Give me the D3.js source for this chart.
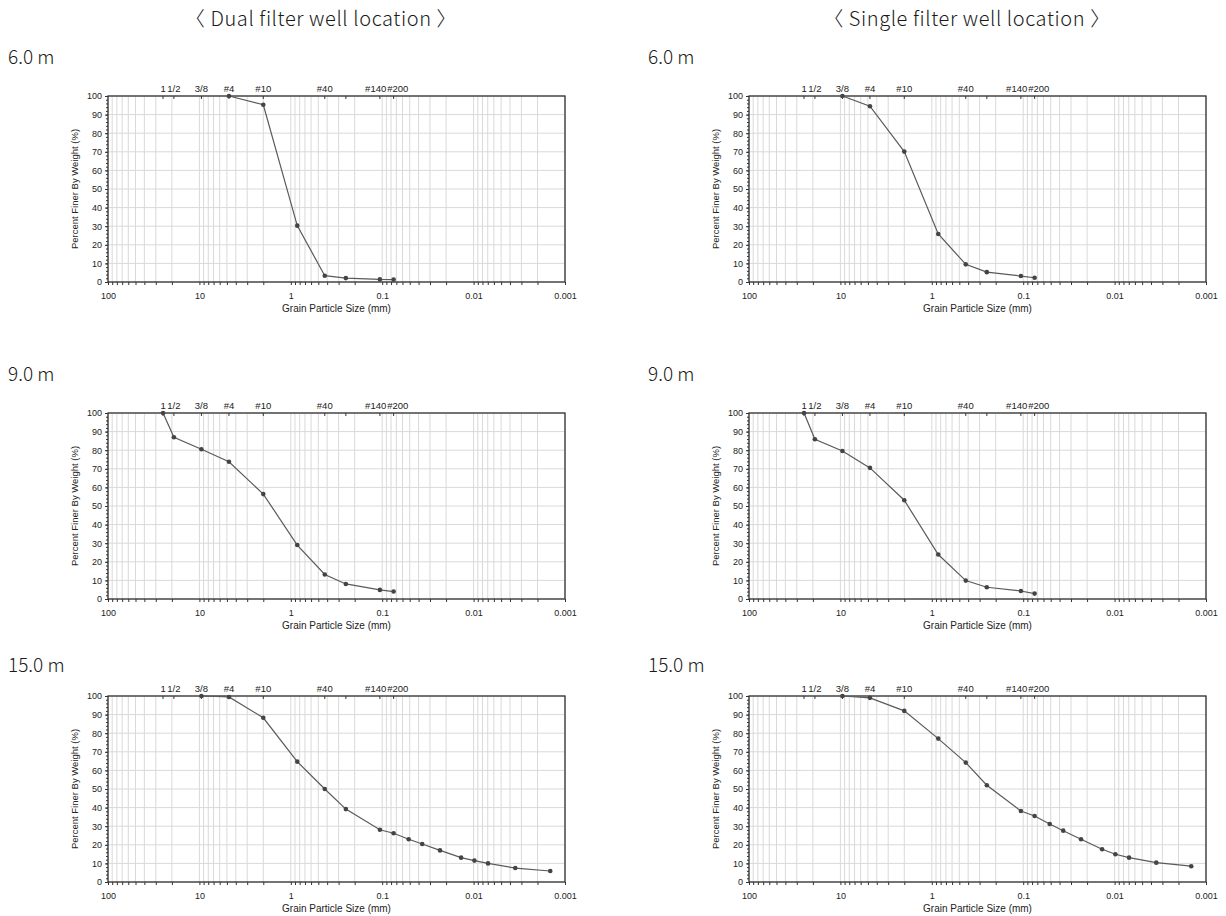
<!DOCTYPE html>
<html>
<head>
<meta charset="utf-8">
<script src="https://cdn.jsdelivr.net/npm/d3@7"></script>
<style>
    body { margin: 0; background: #fff; }
    .head { font-family: "Noto Sans CJK KR", "Noto Sans", sans-serif; font-weight: 300; fill: #1a1a1a; }
    .chart text { font-family: "Liberation Sans", Arial, sans-serif; fill: #222; }
</style>
</head>
<body>
<div id="vis"></div>
<script>
// sieve sizes (mm) and hydrometer sizes
const SIEVE_SIZES = [25, 19, 9.5, 4.75, 2.0, 0.85, 0.425, 0.25, 0.106, 0.075];
const HYDRO_SIZES = [0.0513, 0.0365, 0.0233, 0.0137, 0.0098, 0.00695, 0.0035, 0.00145];

// top axis sieve marks
const SIEVE_LABELS = ["1", "1/2", "3/8", "#4", "#10", "#40", "#140", "#200"];
const SIEVE_LABEL_SIZES = [25, 19, 9.5, 4.75, 2.0, 0.425, 0.106, 0.075];
const SIEVE_TICK_SIZES = [25, 19, 9.5, 4.75, 2.0, 0.425, 0.25, 0.106, 0.075];

const X_TICK_LABELS = ["100", "10", "1", "0.1", "0.01", "0.001"];
const Y_TICKS = [0, 10, 20, 30, 40, 50, 60, 70, 80, 90, 100];

const DEPTHS = ["6.0 m", "9.0 m", "15.0 m"];
const WELLS = ["〈 Dual filter well location 〉", "〈 Single filter well location 〉"];

// percent finer by weight
const dual6Sizes = [4.75, 2.0, 0.85, 0.425, 0.25, 0.106, 0.075];
const dual6Pct   = [100, 95.3, 30.3, 3.4, 2.1, 1.4, 1.3];

const dual9Sizes = SIEVE_SIZES;
const dual9Pct   = [100, 87.0, 80.5, 73.8, 56.4, 29.0, 13.2, 8.1, 4.9, 4.0];

const dual15Sizes = SIEVE_SIZES.slice(2).concat(HYDRO_SIZES);
const dual15Pct   = [100, 99.5, 88.3, 64.7, 50.0, 39.2, 28.1, 26.2, 23.0, 20.4, 17.0, 13.1, 11.5, 10.0, 7.5, 5.9];

const single6Sizes = SIEVE_SIZES.slice(2);
const single6Pct   = [100, 94.5, 70.1, 25.8, 9.5, 5.3, 3.2, 2.3];

const single9Sizes = SIEVE_SIZES;
const single9Pct   = [100, 85.9, 79.6, 70.5, 53.1, 23.9, 9.9, 6.3, 4.3, 2.9];

const single15Sizes = SIEVE_SIZES.slice(2).concat(HYDRO_SIZES);
const single15Pct   = [100, 99.0, 92.0, 77.1, 64.2, 52.0, 38.2, 35.5, 31.2, 27.6, 23.0, 17.6, 14.9, 13.1, 10.4, 8.5];

const SERIES = [
    [dual6Sizes, dual6Pct], [dual9Sizes, dual9Pct], [dual15Sizes, dual15Pct],
    [single6Sizes, single6Pct], [single9Sizes, single9Pct], [single15Sizes, single15Pct]
];

// layout
const width = 1226, height = 916;
const plotW = 457, plotH = 186;
const colX = [108, 749];
const headX = [321, 967];
const depthX = [8, 648];
const rowY = [96, 413, 696];
const depthY = [64, 381, 672];

const svg = d3.select("#vis").append("svg")
    .attr("width", width)
    .attr("height", height);

// headers
WELLS.forEach((w, i) => {
    svg.append("text")
        .attr("class", "head")
        .attr("x", headX[i]).attr("y", 26)
        .attr("text-anchor", "middle")
        .style("font-size", "20px")
        .style("letter-spacing", "0.6px")
        .text(w);
});

const x = d3.scaleLog().domain([100, 0.001]).range([0, plotW]);
const y = d3.scaleLinear().domain([0, 100]).range([plotH, 0]);

// minor log values for grid + ticks
const logMinor = [];
for (let e = -3; e <= 1; e++) {
    for (let k = 1; k <= 9; k++) logMinor.push(k * Math.pow(10, e));
}
logMinor.push(100);

function drawChart(col, row, sizes, pct) {
    const g = svg.append("g")
        .attr("class", "chart")
        .attr("transform", `translate(${colX[col]}, ${rowY[row]})`);

    svg.append("text")
        .attr("class", "head")
        .attr("x", depthX[col]).attr("y", depthY[row])
        .style("font-size", "19px")
        .text(DEPTHS[row]);

    // grid
    g.append("g").selectAll("line")
        .data(logMinor)
        .join("line")
        .attr("x1", d => x(d)).attr("x2", d => x(d))
        .attr("y1", 0).attr("y2", plotH)
        .attr("stroke", "#d9d9d9")
        .attr("stroke-width", 1);

    g.append("g").selectAll("line")
        .data(Y_TICKS)
        .join("line")
        .attr("x1", 0).attr("x2", plotW)
        .attr("y1", d => y(d)).attr("y2", d => y(d))
        .attr("stroke", "#d9d9d9")
        .attr("stroke-width", 1);

    // bottom axis: minor ticks + decade labels
    const xAxis = g.append("g")
        .attr("transform", `translate(0, ${plotH})`)
        .call(d3.axisBottom(x)
            .tickValues(logMinor)
            .tickSize(3)
            .tickPadding(8)
            .tickFormat(d => {
                const i = X_TICK_LABELS.indexOf(String(+d.toPrecision(3)));
                return i >= 0 ? X_TICK_LABELS[i] : "";
            }));
    xAxis.select(".domain").remove();
    xAxis.selectAll("line").attr("stroke", "#333");
    xAxis.selectAll("text").style("font-size", "9px");

    // left axis with minor ticks every 2
    const yMinor = d3.range(0, 101, 2);
    const yMinorAxis = g.append("g")
        .call(d3.axisLeft(y).tickValues(yMinor).tickSize(2).tickFormat(""));
    yMinorAxis.select(".domain").remove();
    yMinorAxis.selectAll("line").attr("stroke", "#333");

    const yAxis = g.append("g")
        .call(d3.axisLeft(y).tickValues(Y_TICKS).tickSize(3).tickPadding(3));
    yAxis.select(".domain").remove();
    yAxis.selectAll("line").attr("stroke", "#333");
    yAxis.selectAll("text").style("font-size", "9px");

    // top sieve ticks
    g.append("g").selectAll("line")
        .data(SIEVE_TICK_SIZES)
        .join("line")
        .attr("x1", d => x(d)).attr("x2", d => x(d))
        .attr("y1", 0).attr("y2", 3)
        .attr("stroke", "#333");

    const labels = g.append("g").selectAll("text")
        .data(SIEVE_LABELS)
        .join("text")
        .attr("x", (d, i) => x(SIEVE_LABEL_SIZES[i]))
        .attr("y", -4)
        .attr("text-anchor", "middle")
        .style("font-size", "9.5px")
        .text(d => d);

    // push overlapping sieve labels apart
    const boxes = labels.nodes().map((n, i) => ({
        node: n, cx: x(SIEVE_LABEL_SIZES[i]), w: n.getComputedTextLength()
    }));
    for (let i = 1; i < boxes.length; i++) {
        const a = boxes[i - 1], b = boxes[i];
        const overlap = (a.cx + a.w / 2 + 1) - (b.cx - b.w / 2);
        if (overlap > 0) {
            a.cx -= overlap / 2;
            b.cx += overlap / 2;
        }
    }
    boxes.forEach(b => d3.select(b.node).attr("x", b.cx));

    // frame
    g.append("rect")
        .attr("width", plotW).attr("height", plotH)
        .attr("fill", "none")
        .attr("stroke", "#333")
        .attr("stroke-width", 1.3);

    // axis titles
    g.append("text")
        .attr("x", plotW / 2).attr("y", plotH + 30)
        .attr("text-anchor", "middle")
        .style("font-size", "10px")
        .text("Grain Particle Size (mm)");

    g.append("text")
        .attr("transform", `translate(-30, ${plotH / 2}) rotate(-90)`)
        .attr("text-anchor", "middle")
        .style("font-size", "9.5px")
        .text("Percent Finer By Weight (%)");

    // curve
    const pts = sizes.map((s, i) => [s, pct[i]]);
    g.append("path")
        .datum(pts)
        .attr("fill", "none")
        .attr("stroke", "#5a5a5a")
        .attr("stroke-width", 1.2)
        .attr("d", d3.line().x(d => x(d[0])).y(d => y(d[1])));

    g.append("g").selectAll("circle")
        .data(pts)
        .join("circle")
        .attr("cx", d => x(d[0]))
        .attr("cy", d => y(d[1]))
        .attr("r", 2.3)
        .attr("fill", "#444");
}

SERIES.forEach((s, i) => drawChart(Math.floor(i / 3), i % 3, s[0], s[1]));
</script>
</body>
</html>
